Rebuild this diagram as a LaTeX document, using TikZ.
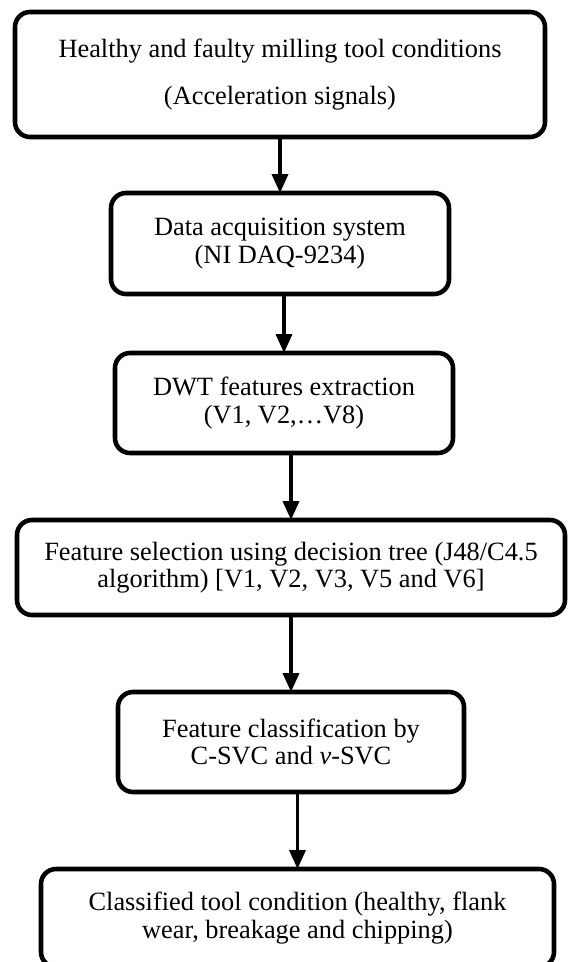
\documentclass[tikz,border=0pt]{standalone}
\usepackage{fontspec}
\setmainfont{Liberation Serif}
\usetikzlibrary{arrows.meta, positioning}

\begin{document}
\begin{tikzpicture}[
    node distance=1.15cm,
    every node/.style={font=\fontsize{15}{15.6}\selectfont},
    stage/.style={rectangle, draw, rounded corners=0.3cm, line width=2.6pt, outer sep=0pt, align=center, minimum height=2cm},
    arr/.style={-{Triangle[length=0.38cm, width=0.32cm]}, line width=2.1pt},
]

% page frame
\useasboundingbox (0,0) rectangle (11.36,-19.24);

% ── Input ──
\node[stage, minimum width=10.6cm, minimum height=2.5cm] (signals) at (5.6,-1.49) {Healthy and faulty milling tool conditions\\[0.38cm](Acceleration signals)};

% ── Acquisition ──
\node[stage, minimum width=6.76cm, minimum height=2.02cm, below=1.12cm of signals] (daq) {Data acquisition system\\(NI DAQ-9234)};

% ── Features ──
\node[stage, minimum width=6.76cm, below=1.18cm of daq, xshift=0.08cm] (dwt) {DWT features extraction\\(V1, V2,…V8)};
\node[stage, minimum width=10.96cm, minimum height=1.9cm, below=1.34cm of dwt, xshift=0.14cm] (select) {Feature selection using decision tree (J48/C4.5\\algorithm) [V1, V2, V3, V5 and V6]};

% ── Classification ──
\node[stage, minimum width=6.92cm, below=1.54cm of select] (classify) {Feature classification by\\C-SVC and \textit{ν}-SVC};
\node[stage, minimum width=10.26cm, minimum height=1.96cm, below=1.54cm of classify, xshift=0.13cm] (result) {Classified tool condition (healthy, flank\\wear, breakage and chipping)};

% ── Arrows ──
\draw[arr] (daq.north |- signals.south) -- (daq.north);
\draw[arr] (dwt.north |- daq.south) -- (dwt.north);
\draw[arr] (select.north |- dwt.south) -- (select.north);
\draw[arr] (classify.north |- select.south) -- (classify.north);
\draw[arr] (result.north |- classify.south) -- (result.north);

\end{tikzpicture}
\end{document}
